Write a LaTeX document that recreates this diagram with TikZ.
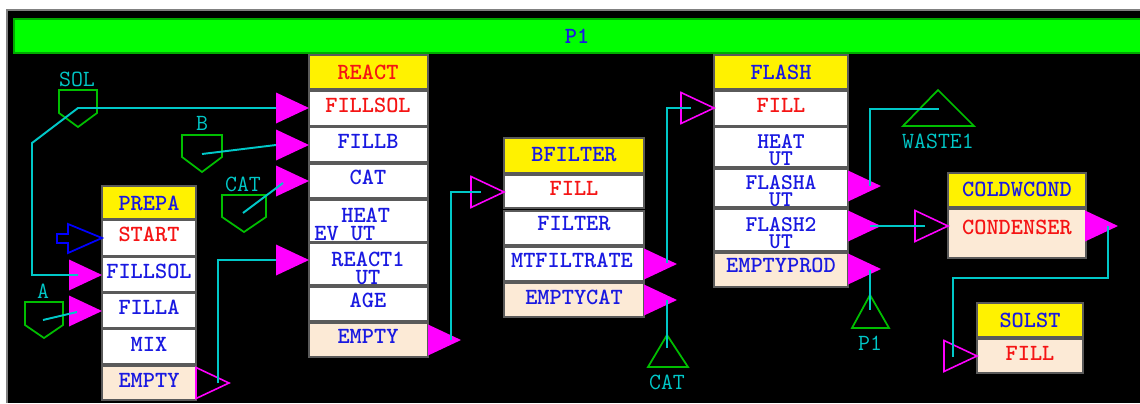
\documentclass[tikz,border=0pt]{standalone}
\usepackage{fontspec}
\usetikzlibrary{fit}
\definecolor{tblue}{RGB}{25,25,225}
\definecolor{tred}{RGB}{245,20,20}
\definecolor{peach}{RGB}{252,234,214}
\definecolor{cy}{RGB}{0,200,200}
\definecolor{gr}{RGB}{0,190,0}
\definecolor{mg}{RGB}{255,0,255}
\definecolor{lime}{RGB}{0,255,0}
\definecolor{rowline}{RGB}{90,90,90}
\tikzset{
  hdr/.style={draw=rowline, fill=yellow, line width=1pt, inner sep=0pt},
  rw/.style={draw=rowline, fill=white, line width=1.4pt, inner sep=0pt},
  rwp/.style={rw, fill=peach},
  tx/.style={font=\ttfamily\bfseries\fontsize{13.2}{9.2}\selectfont, inner sep=0pt, text=tblue},
  txr/.style={tx, text=tred},
  tx2/.style={tx, align=center, font=\ttfamily\bfseries\fontsize{12.8}{9.6}\selectfont},
  lbl/.style={font=\ttfamily\fontsize{13.2}{9.2}\selectfont, inner sep=0pt, text=cy},
  conn/.style={draw=cy, line width=1.1pt},
  fportst/.style={fill=mg},
  hportst/.style={draw=mg, line width=0.9pt},
  srcst/.style={draw=gr, line width=1pt, line join=miter},
}
\newcommand\brow[6]{\node[#6, fit={(#2,#3) (#4,#5)}] (#1) {};}
\newcommand\fport[1]{\fill[fportst] (#1) -- ++(-33,-15.5) -- ++(0,31) -- cycle;}
\newcommand\hport[1]{\draw[hportst] (#1) -- ++(-33,-15.5) -- ++(0,31) -- cycle;}
\begin{document}
\begin{tikzpicture}[x=0.02cm,y=-0.02cm]
\useasboundingbox (0,0) rectangle (1140,403);
\fill[white] (0,0) rectangle (1140,403);
\fill[black] (7,10) rectangle (1140,403);
\draw[gray, line width=0.8pt] (7,403) -- (7,10) -- (1140,10);
% title bar
\node[draw={rgb,255:red,0;green,170;blue,0}, fill=lime, line width=0.8pt, fit={(14,19) (1141,53)}, inner sep=0pt] (bar) {};
\node[tx] (bar-t) at (577,36) {P1};

% ---------------- PREPA
\brow{pH}{102}{186}{196}{219}{hdr}
\brow{pS}{102}{220}{196}{256}{rw}
\brow{pFS}{102}{257}{196}{292}{rw}
\brow{pFA}{102}{293}{196}{328}{rw}
\brow{pM}{102}{329}{196}{364}{rw}
\brow{pE}{102}{366}{196}{400}{rwp}
\node[tx] (pH-t) at (149,203) {PREPA};
\node[txr] (pS-t) at (149,234) {START};
\node[tx] (pFS-t) at (149,271) {FILLSOL};
\node[tx] (pFA-t) at (149,307) {FILLA};
\node[tx] (pM-t) at (149,344) {MIX};
\node[tx] (pE-t) at (149,380) {EMPTY};

% ---------------- REACT
\brow{rH}{309}{55}{428}{89}{hdr}
\brow{rFS}{309}{91}{428}{126}{rw}
\brow{rFB}{309}{127}{428}{162}{rw}
\brow{rC}{309}{164}{428}{198}{rw}
\brow{rHE}{309}{200}{428}{242}{rw}
\brow{rR1}{309}{243}{428}{285}{rw}
\brow{rA}{309}{287}{428}{321}{rw}
\brow{rE}{309}{323}{428}{357}{rwp}
\node[txr] (rH-t) at (368,72) {REACT};
\node[txr] (rFS-t) at (368,105) {FILLSOL};
\node[tx] (rFB-t) at (368,141) {FILLB};
\node[tx] (rC-t) at (368,177) {CAT};
\node[tx, align=left, anchor=west, font=\ttfamily\bfseries\fontsize{13.2}{10.2}\selectfont] (rHE-t) at (314,224) {\hspace{0.54cm}HEAT\\EV UT};
\node[tx2, font=\ttfamily\bfseries\fontsize{13.2}{9.8}\selectfont] (rR1-t) at (368,268.5) {REACT1\\UT};
\node[tx] (rA-t) at (368,300) {AGE};
\node[tx] (rE-t) at (368,336) {EMPTY};

% ---------------- BFILTER
\brow{bH}{504}{138}{644}{173}{hdr}
\brow{bF}{504}{175}{644}{208}{rw}
\brow{bFi}{504}{211}{644}{245}{rw}
\brow{bM}{504}{247}{644}{281}{rw}
\brow{bE}{504}{283}{644}{317}{rwp}
\node[tx] (bH-t) at (574,155) {BFILTER};
\node[txr] (bF-t) at (574,188) {FILL};
\node[tx] (bFi-t) at (574,224) {FILTER};
\node[tx] (bM-t) at (572,260) {MTFILTRATE};
\node[tx] (bE-t) at (574,297) {EMPTYCAT};

% ---------------- FLASH
\brow{fH}{714}{55}{848}{89}{hdr}
\brow{fF}{714}{91}{848}{126}{rw}
\brow{fHE}{714}{127}{848}{167}{rw}
\brow{fA}{714}{169}{848}{207}{rw}
\brow{f2}{714}{209}{848}{251}{rw}
\brow{fE}{714}{253}{848}{287}{rwp}
\node[tx] (fH-t) at (781,72) {FLASH};
\node[txr] (fF-t) at (781,105) {FILL};
\node[tx2] (fHE-t) at (781,150) {HEAT\\UT};
\node[tx2] (fA-t) at (781,191) {FLASHA\\UT};
\node[tx2] (f2-t) at (781,233) {FLASH2\\UT};
\node[tx] (fE-t) at (781,265) {EMPTYPROD};

% ---------------- COLDWCOND
\brow{cH}{948}{173}{1086}{207}{hdr}
\brow{cC}{948}{209}{1086}{258}{rwp}
\node[tx] (cH-t) at (1017,189) {COLDWCOND};
\node[txr] (cC-t) at (1017,227) {CONDENSER};

% ---------------- SOLST
\brow{sH}{977}{303}{1083}{337}{hdr}
\brow{sF}{977}{339}{1083}{373}{rwp}
\node[tx] (sH-t) at (1030,320) {SOLST};
\node[txr] (sF-t) at (1030,353) {FILL};

% ---------------- port tips
\coordinate (pS-tip) at (102,238);
\coordinate (pFS-tip) at (102,275);
\coordinate (pFA-tip) at (102,311);
\coordinate (pE-tip) at (229,383);
\coordinate (rFS-tip) at (309,108);
\coordinate (rFB-tip) at (309,145);
\coordinate (rC-tip) at (309,181);
\coordinate (rR1-tip) at (309,260);
\coordinate (rE-tip) at (461,340);
\coordinate (bF-tip) at (504,192);
\coordinate (bM-tip) at (677,264);
\coordinate (bE-tip) at (677,300);
\coordinate (fF-tip) at (714,108);
\coordinate (fA-tip) at (881,186);
\coordinate (f2-tip) at (881,226);
\coordinate (fE-tip) at (881,269);
\coordinate (cC-in-tip) at (948,226);
\coordinate (cC-tip) at (1118,226);
\coordinate (sF-tip) at (977,356);

\fport{pFS-tip}\fport{pFA-tip}\hport{pE-tip}
\fport{rFS-tip}\fport{rFB-tip}\fport{rC-tip}\fport{rR1-tip}\fport{rE-tip}
\hport{bF-tip}\fport{bM-tip}\fport{bE-tip}
\hport{fF-tip}\fport{fA-tip}\fport{f2-tip}\fport{fE-tip}
\hport{cC-in-tip}\fport{cC-tip}
\hport{sF-tip}

% START arrow
\draw[draw=blue, line width=1pt, line join=miter]
  (pS-tip) -- (68,224) -- (68,234) -- (57,234) -- (57,243) -- (68,243) -- (68,253) -- cycle;

% ---------------- sources
\draw[srcst] (59,90) -- (97,90) -- (97,113) -- (78,127) -- (59,113) -- cycle;
\node[lbl] (sol-l) at (77,79) {SOL};
\draw[srcst] (182,135) -- (222,135) -- (222,157) -- (202,172) -- (182,157) -- cycle;
\node[lbl] (b-l) at (202,123) {B};
\draw[srcst] (222,195) -- (266,195) -- (266,217) -- (244,232) -- (222,217) -- cycle;
\node[lbl] (cat-l) at (243,184) {CAT};
\draw[srcst] (25,302) -- (63,302) -- (63,325) -- (44,338) -- (25,325) -- cycle;
\node[lbl] (a-l) at (43,291) {A};

% ---------------- sinks
\draw[srcst] (667,335) -- (688,367) -- (648,367) -- cycle;
\node[lbl] (cats-l) at (667,382) {CAT};
\draw[srcst] (870,295) -- (889,328) -- (852,328) -- cycle;
\node[lbl] (p1-l) at (870,343) {P1};
\draw[srcst] (938,90) -- (974,126) -- (903,126) -- cycle;
\node[lbl] (w-l) at (938,141) {WASTE1};

% ---------------- connector ends
\coordinate (sol-o) at (78,108);
\coordinate (b-o) at (202,154);
\coordinate (cat-o) at (243,213);
\coordinate (a-o) at (43,320);
\coordinate (pFS-in) at (78,275);
\coordinate (pFA-in) at (77,312);
\coordinate (rFS-in) at (276,108);
\coordinate (rFB-in) at (276,145);
\coordinate (rC-in) at (283,183);
\coordinate (rR1-in) at (276,260);
\coordinate (pE-o) at (218,383);
\coordinate (rE-o) at (451,340);
\coordinate (bF-in) at (481,192);
\coordinate (bM-o) at (667,263);
\coordinate (fF-in) at (691,108);
\coordinate (bE-o) at (667,300);
\coordinate (cats-in) at (667,348);
\coordinate (fA-o) at (870,186);
\coordinate (w-in) at (939,109);
\coordinate (f2-o) at (870,226);
\coordinate (cC-in) at (925,226);
\coordinate (fE-o) at (870,270);
\coordinate (p1-in) at (870,310);
\coordinate (cC-o) at (1108,226);
\coordinate (sF-in) at (953,357);

% ---------------- connectors
\draw[conn] (rFS-in) -- (sol-o) -- ++(-46,35) |- (pFS-in);
\draw[conn] (b-o) -- (rFB-in);
\draw[conn] (cat-o) -- (rC-in);
\draw[conn] (a-o) -- (pFA-in);
\draw[conn] (pE-o) |- (rR1-in);
\draw[conn] (rE-o) |- (bF-in);
\draw[conn] (bM-o) |- (fF-in);
\draw[conn] (bE-o) -- (cats-in);
\draw[conn] (fA-o) |- (w-in);
\draw[conn] (f2-o) -- (cC-in);
\draw[conn] (fE-o) -- (p1-in);
\draw[conn] (cC-o) -- ++(0,52) -| (sF-in);
\end{tikzpicture}
\end{document}
